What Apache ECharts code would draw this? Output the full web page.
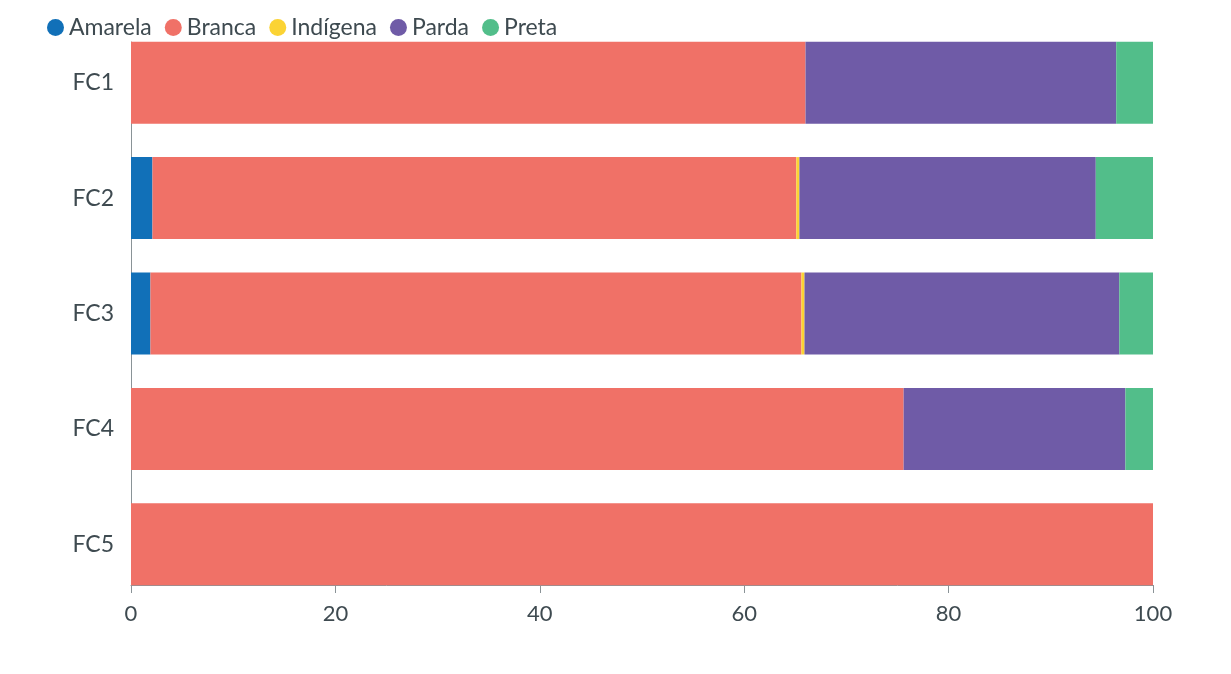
<!DOCTYPE html>
<html>
<head>
<meta charset="utf-8">
<script src="https://cdn.jsdelivr.net/npm/echarts@6/dist/echarts.min.js"></script>
<style>
  html, body { margin: 0; padding: 0; background: #fff; }
  #chart { width: 1231px; height: 674px; }
</style>
</head>
<body>
<div id="chart"></div>
<script>
const categories = ["FC1", "FC2", "FC3", "FC4", "FC5"];
const amarela = [0, 2.1, 1.9, 0, 0];
const branca = [66.0, 63.0, 63.7, 75.6, 100];
const indigena = [0, 0.3, 0.3, 0, 0];
const parda = [30.4, 29.0, 30.8, 21.7, 0];
const preta = [3.6, 5.6, 3.3, 2.7, 0];
const xTicks = [0, 20, 40, 60, 80, 100];

const fontFamily = "Lato, 'Open Sans', sans-serif";
const fontColor = "#3e4a50";
const lineColor = "#8a9397";

const chart = echarts.init(document.getElementById("chart"));

const makeSeries = (name, data, color) => ({
  name,
  type: "bar",
  stack: "total",
  xAxisIndex: 0,
  yAxisIndex: 0,
  barWidth: 82,
  itemStyle: { color },
  emphasis: { disabled: true },
  data,
});

const option = {
  animation: false,
  legend: {
    left: 42,
    top: 11,
    icon: "circle",
    itemWidth: 17,
    itemHeight: 17,
    itemGap: 13,
    textStyle: { color: fontColor, fontFamily, fontSize: 23 },
    data: ["Amarela", "Branca", "Indígena", "Parda", "Preta"],
  },
  grid: [
    // bars
    { left: 131, right: 78, top: 25, bottom: 72 },
    // axis frame
    { left: 131, right: 78, top: 42, bottom: 89 },
  ],
  xAxis: [
    { gridIndex: 0, type: "value", min: 0, max: 100, show: false },
    {
      gridIndex: 1,
      type: "value",
      min: xTicks[0],
      max: xTicks[xTicks.length - 1],
      interval: 20,
      axisLine: { show: true, lineStyle: { color: lineColor, width: 1 } },
      axisTick: { show: true, length: 8, lineStyle: { color: lineColor } },
      splitLine: { show: false },
      axisLabel: { color: fontColor, fontFamily, fontSize: 22, margin: 18 },
    },
  ],
  yAxis: [
    {
      gridIndex: 0,
      type: "category",
      inverse: true,
      data: categories,
      axisLine: { show: false },
      axisTick: { show: false },
      axisLabel: { color: fontColor, fontFamily, fontSize: 23, margin: 17 },
    },
    {
      gridIndex: 1,
      type: "value",
      min: 0,
      max: 1,
      axisLine: { show: true, lineStyle: { color: lineColor, width: 1 } },
      axisTick: { show: false },
      axisLabel: { show: false },
      splitLine: { show: false },
    },
  ],
  series: [
    makeSeries("Amarela", amarela, "#1170b8"),
    makeSeries("Branca", branca, "#f07167"),
    makeSeries("Indígena", indigena, "#fbd334"),
    makeSeries("Parda", parda, "#6f5ba7"),
    makeSeries("Preta", preta, "#52be8a"),
  ],
};

chart.setOption(option);
</script>
</body>
</html>
